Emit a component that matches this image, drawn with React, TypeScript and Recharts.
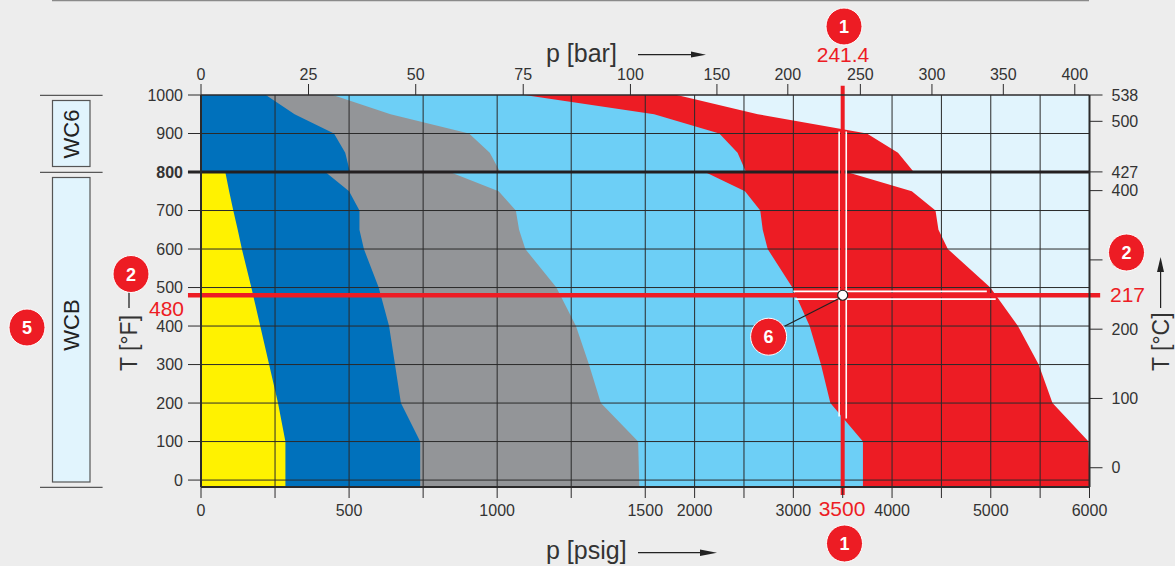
import React from "react";
import { ComposedChart, Area, XAxis, YAxis, ReferenceLine, ReferenceDot } from "recharts";

// Temperature rows in °F. 800 appears twice: WCB (below) and WC6 (above) rating curves.
const tempF = [-18, 100, 200, 300, 400, 500, 600, 650, 700, 750, 800, 800, 850, 900, 950, 1000];
// Pressure limit of each class in psig at those temperatures.
const yellowPsig = [285, 285, 260, 230, 200, 170, 138, 124, 109, 95, 82, 0, 0, 0, 0, 0];
const bluePsig = [740, 740, 675, 655, 635, 600, 550, 535, 535, 500, 420, 503, 487, 449, 316, 219];
const grayPsig = [1480, 1476, 1350, 1310, 1266, 1200, 1095, 1074, 1063, 1005, 840, 1010, 975, 905, 640, 445];
const skyPsig = [3705, 3705, 3375, 3280, 3165, 2990, 2740, 2690, 2665, 2510, 2105, 2520, 2435, 2250, 1590, 1092];
const redPsig = [6000, 5990, 5625, 5485, 5275, 4995, 4565, 4470, 4440, 4200, 3540, 4220, 4060, 3745, 2640, 1820];
const palePsig = [6000, 6000, 6000, 6000, 6000, 6000, 6000, 6000, 6000, 6000, 6000, 6000, 6000, 6000, 6000, 6000];

const psigTicks = [0, 250, 500, 750, 1000, 1250, 1500, 2000, 2500, 3000, 3500, 4000, 4500, 5000, 5500, 6000];
const psigLabels = ["0", "", "500", "", "1000", "", "1500", "2000", "", "3000", "", "4000", "", "5000", "", "6000"];
const psigGrid = [250, 500, 750, 1000, 1250, 1500, 2000, 2500, 3000, 4000, 4500, 5000, 5500];
const barTickPsig = [0, 363, 725, 1088, 1450, 2226, 2944, 3679, 4404, 5127, 5851];
const barLabels = ["0", "25", "50", "75", "100", "150", "200", "250", "300", "350", "400"];
const fahrenheitTicks = [0, 100, 200, 300, 400, 500, 600, 700, 800, 900, 1000];
const fahrenheitGrid = [0, 100, 200, 300, 400, 500, 600, 700, 900];
const celsiusTicks = [0, 100, 200, 300, 400, 427, 500, 538];

const markPsig = 3500;
const markF = 480;

// The psig axis is compressed 3:1 above 1500 psig.
const toAxis = (p: number) => (p <= 1500 ? p : 1500 + (p - 1500) / 3);

const rows = tempF.map((T, i) => ({
  T,
  C: (T - 32) / 1.8,
  pale: toAxis(palePsig[i]),
  red: toAxis(redPsig[i]),
  sky: toAxis(skyPsig[i]),
  gray: toAxis(grayPsig[i]),
  blue: toAxis(bluePsig[i]),
  yellow: toAxis(yellowPsig[i]),
}));

const RED = "#ed1c24";
const INK = "#2b2a2b";
const FONT = "'Liberation Sans', Arial, sans-serif";
const tickStyle = { fontSize: 16, fill: "#333", fontFamily: FONT };

const LeftTick = (props: any) => {
  const { x, y, payload } = props;
  const heavy = payload.value === 800;
  return (
    <text x={x} y={y + 5.5} textAnchor="end" {...tickStyle} fontWeight={heavy ? "bold" : "normal"}>
      {payload.value}
    </text>
  );
};

const Badge = ({ x, y, n }: { x: number; y: number; n: number }) => (
  <g>
    <ellipse cx={x} cy={y} rx={18} ry={18.5} fill={RED} stroke="#fff" strokeWidth={1} />
    <text x={x} y={y + 6.5} textAnchor="middle" fontSize={18} fontWeight="bold" fill="#fff" fontFamily={FONT}>
      {n}
    </text>
  </g>
);

const Overlay = () => (
  <svg width={1175} height={566} style={{ position: "absolute", left: 0, top: 0, pointerEvents: "none" }}>
    <line x1={52} x2={1089} y1={0.5} y2={0.5} stroke="#8a8a8a" strokeWidth={1.5} />
    {[95.3, 172.3, 487.3].map((y) => (
      <line key={y} x1={40} x2={102.6} y1={y} y2={y} stroke="#333" strokeWidth={1} />
    ))}
    <rect x={52.5} y={100.5} width={37.5} height={66} fill="#e1f4fd" stroke="#555" strokeWidth={1.2} />
    <rect x={52.5} y={177.5} width={37.5} height={304.5} fill="#e1f4fd" stroke="#555" strokeWidth={1.2} />
    <text transform="translate(79,134) rotate(-90)" textAnchor="middle" fontSize={22} fill="#222" fontFamily={FONT}>WC6</text>
    <text transform="translate(79,325) rotate(-90)" textAnchor="middle" fontSize={22} fill="#222" fontFamily={FONT}>WCB</text>

    <text x={546} y={62} fontSize={25} fill="#333" fontFamily={FONT}>p [bar]</text>
    <line x1={638} x2={695} y1={54.7} y2={54.7} stroke="#222" strokeWidth={1.2} />
    <polygon points="691,51.5 706,54.7 691,57.5" fill="#222" />
    <text x={546} y={559} fontSize={25} fill="#333" fontFamily={FONT}>p [psig]</text>
    <line x1={638} x2={705} y1={552.7} y2={552.7} stroke="#222" strokeWidth={1.2} />
    <polygon points="700,549.5 717,552.7 700,556" fill="#222" />

    <text transform="translate(137,371) rotate(-90)" fontSize={23} fill="#333" fontFamily={FONT}>T [°F]</text>
    <line x1={129} x2={129} y1={292} y2={308} stroke="#222" strokeWidth={1.3} />
    <text transform="translate(1169,371) rotate(-90)" fontSize={23} fill="#333" fontFamily={FONT}>T [°C]</text>
    <line x1={1160.6} x2={1160.6} y1={265} y2={308} stroke="#222" strokeWidth={1.2} />
    <polygon points="1157,272 1160.6,257 1164,272" fill="#222" />

    <text x={843} y={62} textAnchor="middle" fontSize={21} fill={RED} fontFamily={FONT}>241.4</text>
    <text x={842} y={516} textAnchor="middle" fontSize={21} fill={RED} fontFamily={FONT}>3500</text>
    <text x={184} y={316} textAnchor="end" fontSize={21} fill={RED} fontFamily={FONT}>480</text>
    <text x={1110} y={302} fontSize={21} fill={RED} fontFamily={FONT}>217</text>

    <line x1={785} y1={326} x2={840} y2={298} stroke="#222" strokeWidth={1.2} />
    <Badge x={844} y={26.5} n={1} />
    <Badge x={844.5} y={543.5} n={1} />
    <Badge x={131} y={274} n={2} />
    <Badge x={1126.5} y={252.5} n={2} />
    <Badge x={27} y={327.5} n={5} />
    <Badge x={768.6} y={336.7} n={6} />
  </svg>
);

const segProps = { xAxisId: "psig", yAxisId: "f", ifOverflow: "visible" as const };

export default function App() {
  return (
    <div style={{ position: "absolute", left: 0, top: 0, width: 1175, height: 566, background: "#ededed", overflow: "hidden" }}>
      <ComposedChart width={1175} height={566} data={rows} layout="vertical" margin={{ top: 0, right: 0, bottom: 0, left: 0 }}>
        <XAxis
          xAxisId="psig" type="number" orientation="bottom" domain={[0, 3000]} height={79}
          ticks={psigTicks.map(toAxis)} interval={0} tickSize={11} tickMargin={7}
          tickFormatter={(_v: number, i: number) => psigLabels[i]}
          tick={tickStyle} stroke={INK} axisLine={{ stroke: INK, strokeWidth: 2 }} tickLine={{ stroke: INK, strokeWidth: 1 }}
        />
        <XAxis
          xAxisId="bar" type="number" orientation="top" domain={[0, 3000]} height={95}
          ticks={barTickPsig.map(toAxis)} interval={0} tickSize={11} tickMargin={4}
          tickFormatter={(_v: number, i: number) => barLabels[i]}
          tick={tickStyle} stroke={INK} axisLine={{ stroke: INK, strokeWidth: 1.5 }} tickLine={{ stroke: INK, strokeWidth: 1 }}
        />
        <YAxis
          yAxisId="f" type="number" dataKey="T" orientation="left" domain={[-18, 1000]} width={201} reversed
          ticks={fahrenheitTicks} interval={0} tickSize={13} tickMargin={5}
          tick={LeftTick} stroke={INK} axisLine={{ stroke: INK, strokeWidth: 2 }} tickLine={{ stroke: INK, strokeWidth: 1 }}
        />
        <YAxis
          yAxisId="c" type="number" dataKey="C" orientation="right" domain={[-27.8, 538]} width={85.5} reversed
          ticks={celsiusTicks} interval={0} tickSize={13} tickMargin={9}
          tick={tickStyle} stroke={INK} axisLine={{ stroke: INK, strokeWidth: 2 }} tickLine={{ stroke: INK, strokeWidth: 1 }}
        />
        {(["pale", "red", "sky", "gray", "blue", "yellow"] as const).map((k) => (
          <Area
            key={k} xAxisId="psig" yAxisId="f" dataKey={k} type="linear" stroke="none" dot={false} activeDot={false}
            fillOpacity={1}
            fill={{ pale: "#e1f4fd", red: RED, sky: "#6dcff6", gray: "#939598", blue: "#0071bc", yellow: "#fff200" }[k]}
            isAnimationActive={false}
          />
        ))}
        <Area xAxisId="bar" yAxisId="c" dataKey="pale" type="linear" stroke="none" fill="none" fillOpacity={0} dot={false} activeDot={false} isAnimationActive={false} />
        {fahrenheitGrid.map((t) => (
          <ReferenceLine key={"h" + t} {...segProps} y={t} stroke="#2a2a2a" strokeWidth={1} />
        ))}
        {psigGrid.map((p) => (
          <ReferenceLine key={"v" + p} {...segProps} x={toAxis(p)} stroke="#2a2a2a" strokeWidth={1} />
        ))}
        <ReferenceLine {...segProps} stroke="#231f20" strokeWidth={3} segment={[{ x: -44, y: 800 }, { x: 3000, y: 800 }]} />
        <ReferenceLine {...segProps} stroke="#fff" strokeWidth={1.6} segment={[{ x: toAxis(markPsig - 36), y: 905 }, { x: toAxis(markPsig - 36), y: 165 }]} />
        <ReferenceLine {...segProps} stroke="#fff" strokeWidth={1.6} segment={[{ x: toAxis(markPsig + 36), y: 905 }, { x: toAxis(markPsig + 36), y: 160 }]} />
        <ReferenceLine {...segProps} stroke="#fff" strokeWidth={1.6} segment={[{ x: toAxis(3000), y: markF + 10 }, { x: toAxis(4960), y: markF + 10 }]} />
        <ReferenceLine {...segProps} stroke="#fff" strokeWidth={1.6} segment={[{ x: toAxis(3020), y: markF - 10 }, { x: toAxis(5050), y: markF - 10 }]} />
        <ReferenceLine {...segProps} stroke={RED} strokeWidth={4} segment={[{ x: toAxis(markPsig), y: 1024 }, { x: toAxis(markPsig), y: -39 }]} />
        <ReferenceLine {...segProps} stroke={RED} strokeWidth={4.5} segment={[{ x: -44, y: markF }, { x: 3036, y: markF }]} />
        <ReferenceDot xAxisId="psig" yAxisId="f" x={toAxis(markPsig)} y={markF} r={5} fill="#fff" stroke="#222" strokeWidth={1.2} ifOverflow="visible" />
      </ComposedChart>
      <Overlay />
    </div>
  );
}
